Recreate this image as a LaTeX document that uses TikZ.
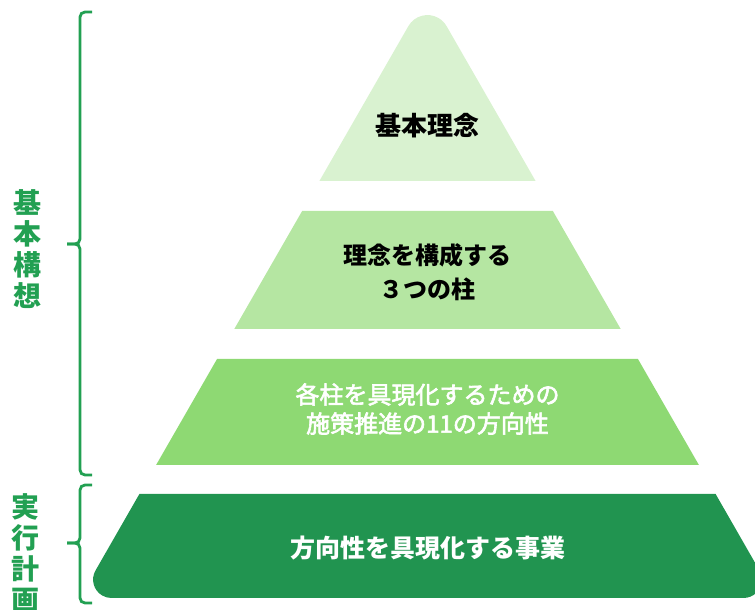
\documentclass[tikz,border=0pt]{standalone}
\usepackage{fontspec}
\setmainfont{Noto Sans CJK JP}
\newfontfamily\jpmed[FakeBold=2.5]{Noto Sans CJK JP}
\definecolor{lvA}{HTML}{D9F2D0}
\definecolor{lvB}{HTML}{B5E6A2}
\definecolor{lvC}{HTML}{8ED973}
\definecolor{lvD}{HTML}{219450}
\definecolor{brk}{HTML}{22A052}
\tikzset{
  brace/.style={draw=brk, line width=2.8pt, rounded corners=5pt},
  sidelabel/.style={text=brk, font=\fontsize{28}{31}\selectfont\bfseries, align=center, inner sep=0pt},
  lvtext/.style={align=center, inner sep=0pt}
}
\begin{document}
\begin{tikzpicture}[x=1pt,y=1pt]
\useasboundingbox (0,0) rectangle (755,610);
\clip (0,0) rectangle (755,610);
% level 1 (rounded apex)
\fill[lvA] (319.4,429) -- (408.4,583.9) arc[start angle=150.1, end angle=29.9, radius=22] -- (535.6,429) -- cycle;
% level 2
\fill[lvB] (302.15,399) -- (552.85,399) -- (620.7,281) -- (234.3,281) -- cycle;
% level 3
\fill[lvC] (217.05,251) -- (637.95,251) -- (698.9,145) -- (156.1,145) -- cycle;
% level 4
\fill[lvD] (139.4,116) -- (95.55,39.6) arc[start angle=150, end angle=270, radius=18.4]
  -- (743.5,12) arc[start angle=270, end angle=390, radius=18.4] -- (715.6,116) -- cycle;
% texts
\node[lvtext, font=\fontsize{26}{30}\selectfont\bfseries] (t1) at (427.5,484) {基本理念};
\node[lvtext, font=\fontsize{24}{34}\selectfont\bfseries] (t2) at (427.5,338) {理念を構成する\\３つの柱};
\node[lvtext, text=white, font=\fontsize{24}{29}\selectfont\jpmed] (t3) at (427.5,201) {各柱を具現化するための\\施策推進の11の方向性};
\node[lvtext, text=white, font=\fontsize{25}{30}\selectfont\bfseries] (t4) at (428,62) {方向性を具現化する事業};
% brackets
\draw[brace] (92,598) -- (80,598) -- (80,366) -- (67,366);
\draw[brace] (67,366) -- (80,366) -- (80,135) -- (92,135);
\draw[brace] (92,125) -- (80,125) -- (80,67) -- (67,67);
\draw[brace] (67,67) -- (80,67) -- (80,7) -- (92,7);
% side labels
\node[sidelabel] (kihon) at (27,360.5) {基\\本\\構\\想};
\node[sidelabel] (jikko) at (26,57) {実\\行\\計\\画};
\end{tikzpicture}
\end{document}
